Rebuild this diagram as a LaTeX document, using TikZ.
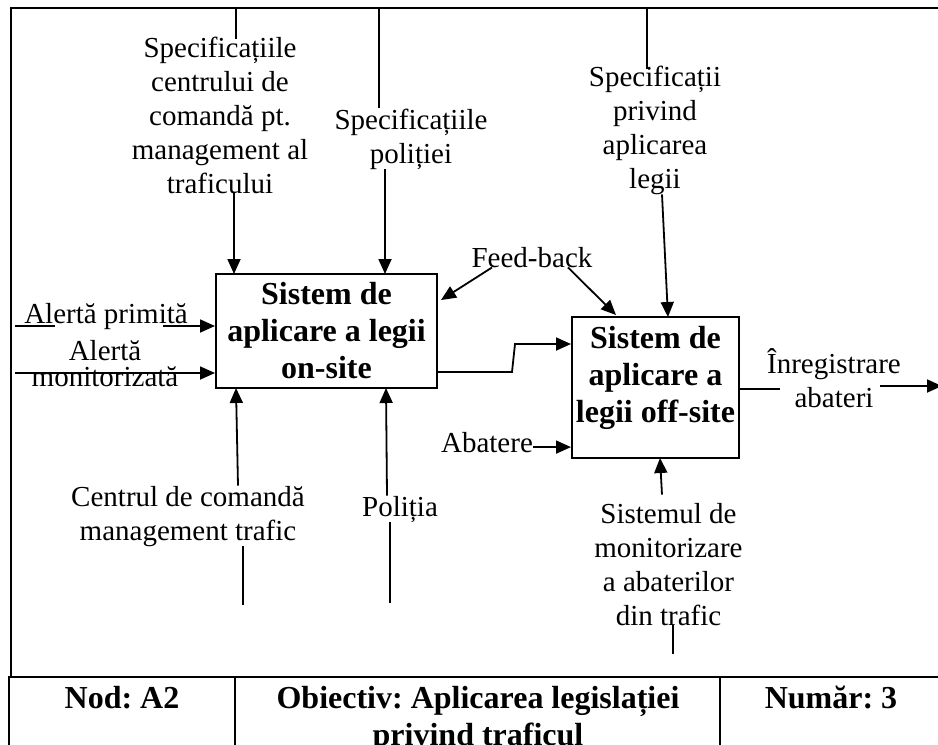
\documentclass[tikz,border=0pt]{standalone}
\usepackage{fontspec}
\setmainfont{Liberation Serif}
\usetikzlibrary{arrows.meta}
\begin{document}
\frenchspacing
\begin{tikzpicture}[x=1pt,y=-1pt,
  lbl/.style={font=\fontsize{29}{34}\selectfont, align=center, inner sep=0pt, anchor=base},
  boldlbl/.style={font=\fontsize{32}{37}\selectfont\bfseries, align=center, inner sep=0pt, anchor=base},
  frame/.style={line width=1.8pt},
  box/.style={draw, line width=2pt, inner sep=0pt},
  wire/.style={line width=1.8pt},
  arr/.style={wire, -{Triangle[length=15pt,width=13pt]}},
]
\clip (0,0) rectangle (938,745);
\useasboundingbox (0,0) rectangle (938,745);

% outer frame and title block
\draw[frame] (940,8) -- (11,8) -- (11,677);
\draw[frame] (9,745) -- (9,677) -- (940,677);
\draw[frame] (235,677) -- (235,745);
\draw[frame] (720,677) -- (720,745);
\node[boldlbl] (t1) at (122,708) {Nod: A2};
\node[boldlbl] (t2) at (478,745) {Obiectiv: Aplicarea legislației\\privind traficul};
\node[boldlbl] (t3) at (831,708) {Număr: 3};

% activity boxes (text anchored on its last baseline)
\node[box, minimum width=221pt, minimum height=114pt] (b1) at (326.5,331) {};
\node[boldlbl] (b1t) at (326.5,378) {Sistem de\\aplicare a legii\\on-site};
\node[box, minimum width=167pt, minimum height=141pt] (b2) at (655.5,387.5) {};
\node[boldlbl] (b2t) at (655.5,422) {Sistem de\\aplicare a\\legii off-site};

% labels
\node[lbl] (c1) at (220,193) {Specificațiile\\centrului de\\comandă pt.\\management al\\traficului};
\node[lbl] (c2) at (411,163) {Specificațiile\\poliției};
\node[lbl] (c3) at (655,188) {Specificații\\privind\\aplicarea\\legii};
\node[lbl] (fb) at (532,267) {Feed-back};
\node[lbl] (i1) at (106,323) {Alertă primită};
\node[lbl] (i2) at (105,386) {Alertă\\[-8pt]monitorizată};
\node[lbl] (ab) at (487,452) {Abatere};
\node[lbl] (o1) at (834,407) {Înregistrare\\abateri};
\node[lbl] (m1) at (188,540) {Centrul de comandă\\management trafic};
\node[lbl] (m2) at (400,516) {Poliția};
\node[lbl] (m3) at (668.5,625) {Sistemul de\\monitorizare\\a abaterilor\\din trafic};

% attachment points
\coordinate (c1src) at (236,8);
\coordinate (c2src) at (379,8);
\coordinate (c3src) at (647,8);
\coordinate (b1in1) at (234,274);
\coordinate (b1in2) at (385,274);
\coordinate (b2in1) at (668,317);
\coordinate (b1fb) at (441,300);
\coordinate (b2fb) at (616,315);
\coordinate (l1) at (15,326);
\coordinate (l1a) at (55,326);
\coordinate (l1b) at (163,326);
\coordinate (l2) at (15,373);
\coordinate (j1) at (512,372);
\coordinate (j2) at (515,344);
\coordinate (o1l) at (780,389);
\coordinate (o1r) at (880,386);
\coordinate (oend) at (942,386);
\coordinate (b1c1) at (236,388);
\coordinate (b1c2) at (386,388);
\coordinate (b2c) at (660,458);
\coordinate (m1src) at (243,605);
\coordinate (m2src) at (390,603);
\coordinate (m3src) at (673,654);

% controls from above
\draw[wire] (c1src) -- ([yshift=-3pt]c1src |- c1.north);
\draw[arr] (b1in1 |- c1.south) -- (b1in1);
\draw[wire] (c2src) -- (c2src |- c2.north);
\draw[arr] (b1in2 |- c2.south) -- (b1in2);
\draw[wire] (c3src) -- ([yshift=-4pt]c3src |- c3.north);
\draw[arr] ([xshift=7pt]c3.south) -- (b2in1);

% feed-back
\draw[arr] ([xshift=-40pt]fb.south) -- (b1fb);
\draw[arr] ([xshift=36pt]fb.south) -- (b2fb);

% inputs
\draw[wire] (l1) -- (l1a);
\draw[arr] (l1b) -- (l1 -| b1.west);
\draw[arr] (l2) -- (l2 -| b1.west);
\draw[arr] (b1.east |- j1) -- (j1) -- (j2) -- (b2.west |- j2);
\draw[arr] ([yshift=-5pt]ab.east) -- ([yshift=-5pt]ab.east -| b2.west);

% output
\draw[wire] (b2.east |- o1l) -- (o1l);
\draw[arr] (o1r) -- (oend);

% mechanisms from below
\draw[arr] ([xshift=50pt]m1.north) -- (b1c1);
\draw[wire] (m1src) -- (m1src |- m1.south);
\draw[arr] ([xshift=-13pt]m2.north) -- (b1c2);
\draw[wire] (m2src) -- (m2src |- m2.south);
\draw[arr] ([xshift=-6.5pt,yshift=8pt]m3.north) -- (b2c);
\draw[wire] (m3src) -- (m3src |- m3.south);
\end{tikzpicture}
\end{document}
